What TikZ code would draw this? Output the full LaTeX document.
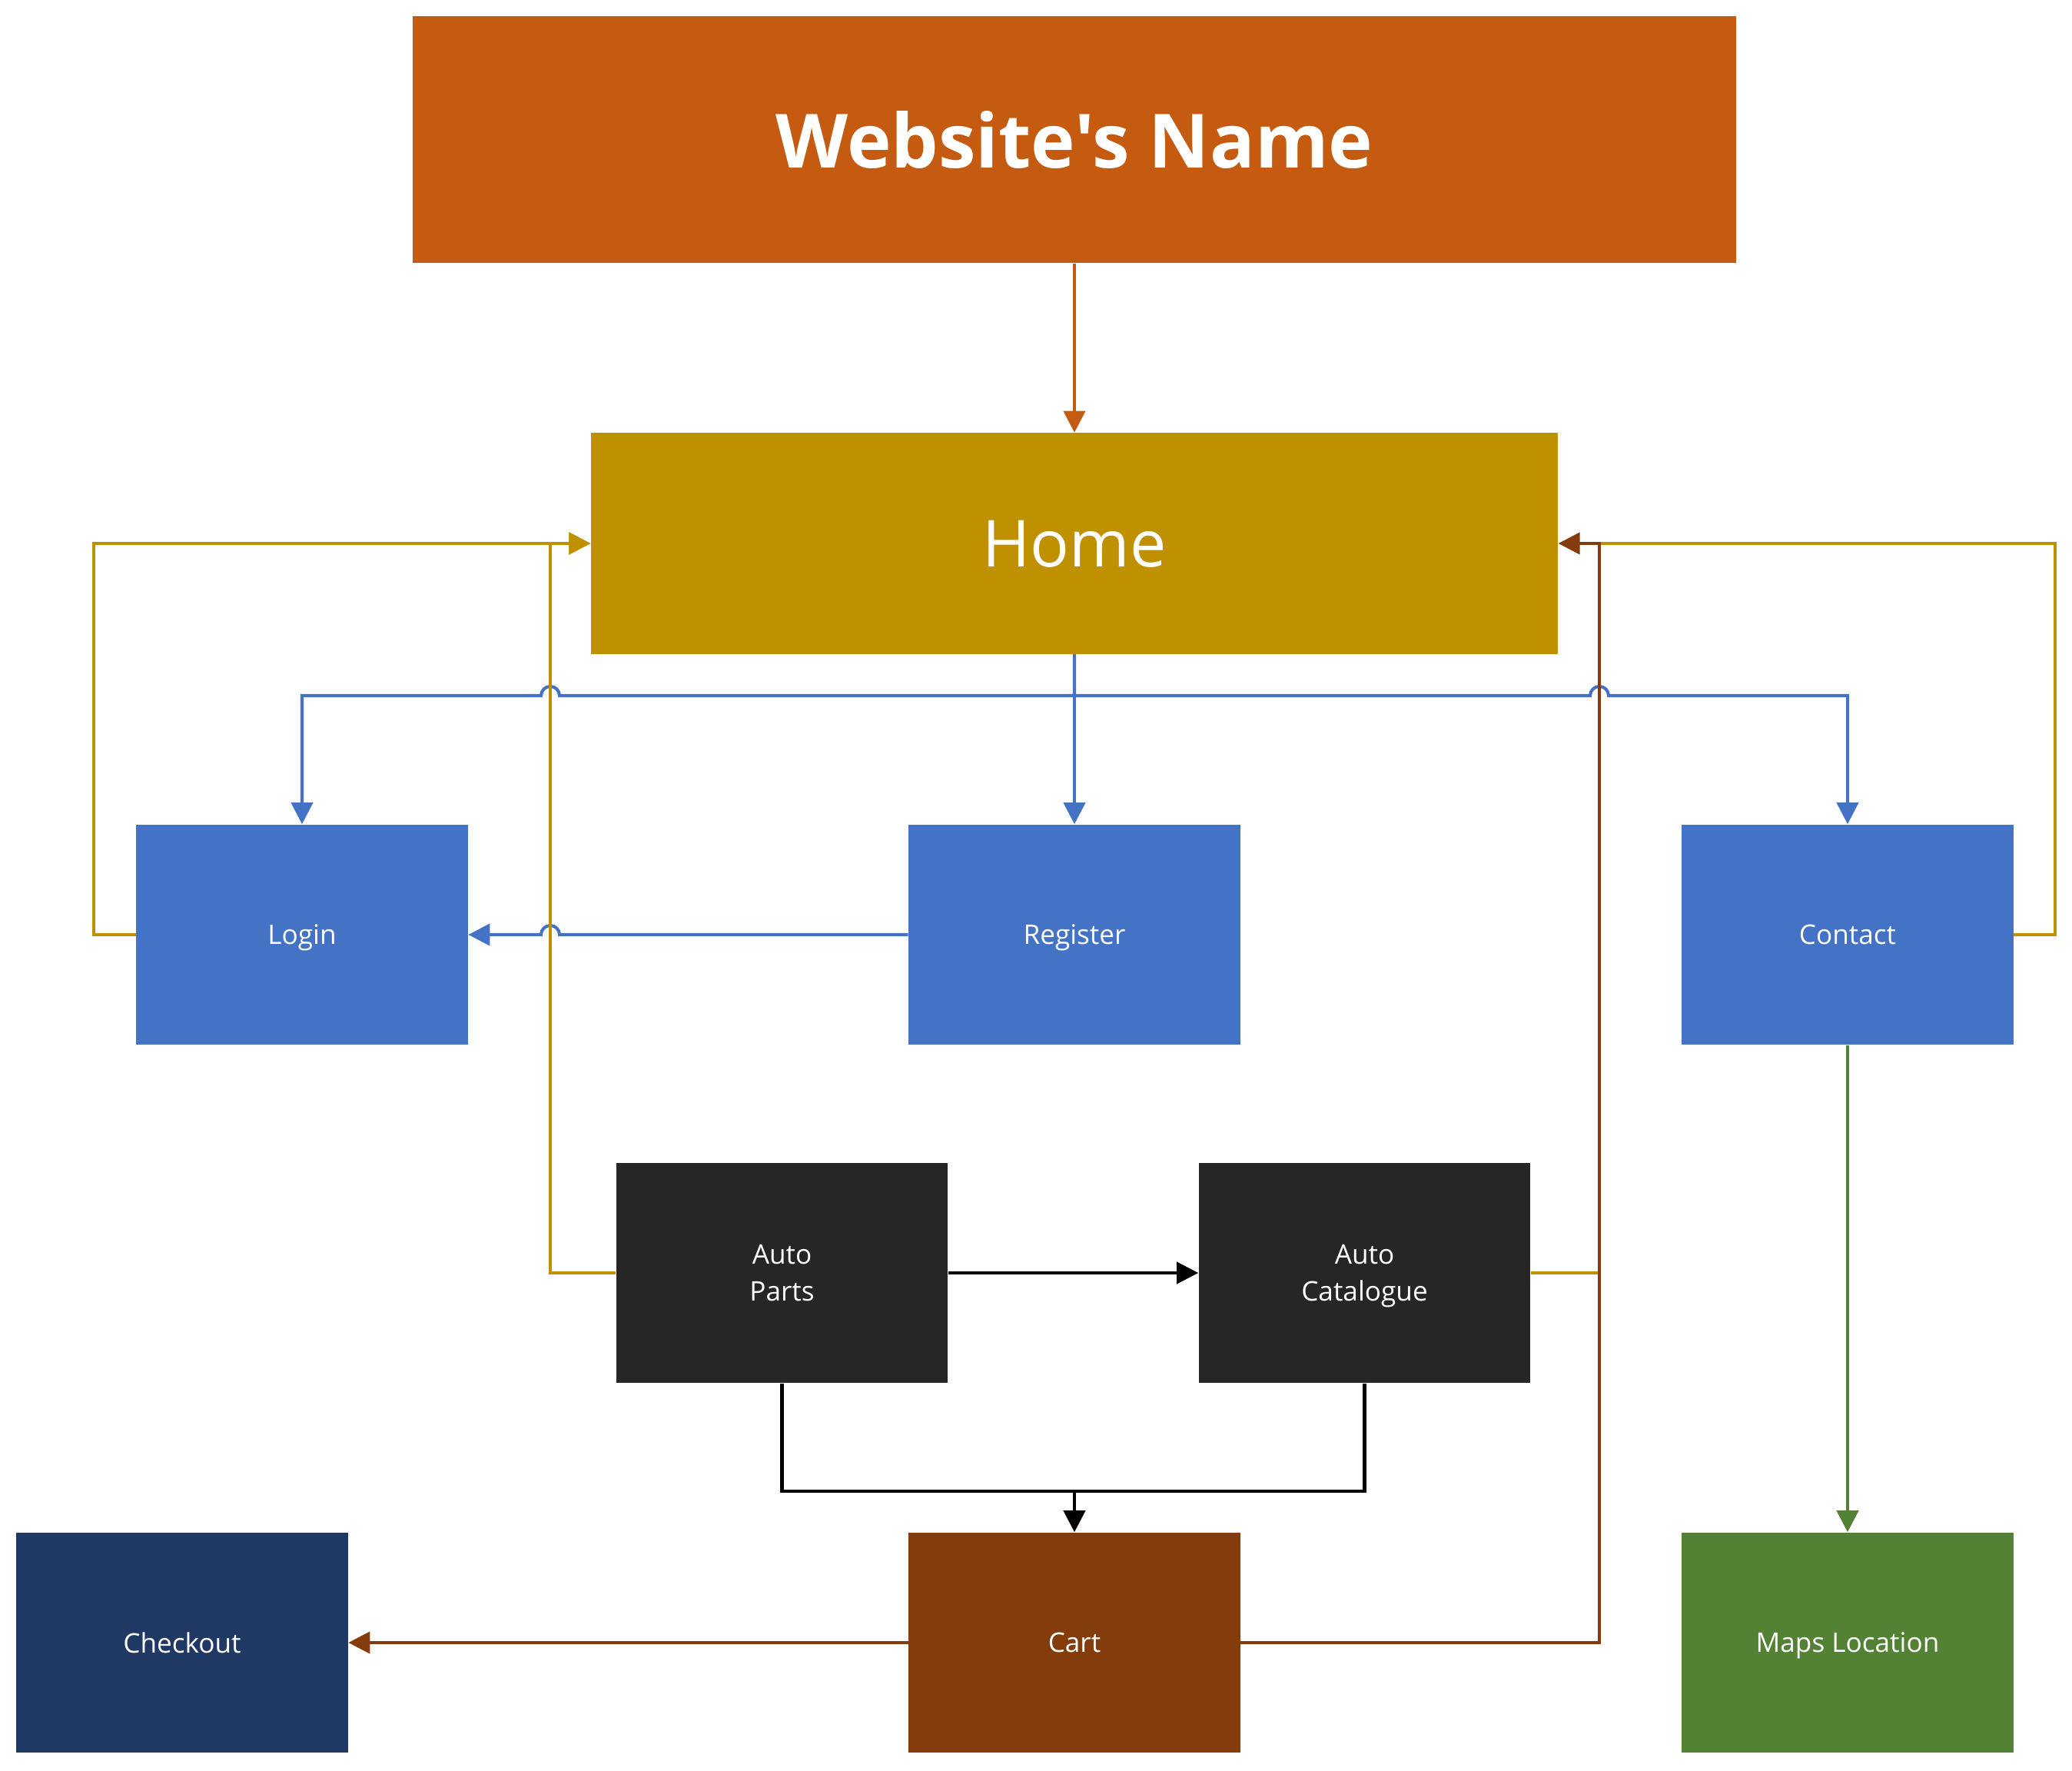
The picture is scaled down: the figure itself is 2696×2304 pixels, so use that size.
\documentclass[tikz,border=0pt]{standalone}
\usepackage{fontspec}
\setmainfont{Open Sans}
\newfontfamily\titlefont{Open Sans}
\usetikzlibrary{arrows.meta,calc}
\definecolor{cTitle}{HTML}{C55A11}
\definecolor{cHome}{HTML}{BF9000}
\definecolor{cBlue}{HTML}{4472C4}
\definecolor{cDark}{HTML}{262626}
\definecolor{cNavy}{HTML}{203864}
\definecolor{cBrown}{HTML}{843C0C}
\definecolor{cGreen}{HTML}{548235}
\begin{document}
\begin{tikzpicture}[x=0.01cm,y=0.01cm,
  box/.style={rectangle,inner sep=0pt,text=white,align=center,text depth=0pt,
    minimum width=4.31cm,minimum height=2.86cm,font=\fontsize{10}{13.7}\selectfont},
  conn/.style={line width=1.15pt,line join=miter},
  tip/.style={-{Triangle[length=0.28cm,width=0.28cm]}}]
\useasboundingbox (0,0) rectangle (2696,-2304);
% nodes
\node[box,fill=cTitle,minimum width=17.21cm,minimum height=3.21cm,
  font=\titlefont\fontsize{27.7}{32}\bfseries] (title) at (1398,-181.5) {Website's Name};
\node[box,fill=cHome,minimum width=12.57cm,minimum height=2.87cm,
  font=\fontsize{24}{28}\selectfont] (home) at (1398,-707) {Home};
\node[box,fill=cBlue] (login) at (393,-1216) {Login};
\node[box,fill=cBlue] (register) at (1398,-1216) {Register};
\node[box,fill=cBlue] (contact) at (2404,-1216) {Contact};
\node[box,fill=cDark] (parts) at (1017.5,-1656) {Auto\\Parts};
\node[box,fill=cDark] (catalogue) at (1775.5,-1656) {Auto\\Catalogue};
\node[box,fill=cNavy] (checkout) at (237,-2137) {Checkout};
\node[box,fill=cBrown] (cart) at (1398,-2137) {Cart};
\node[box,fill=cGreen] (maps) at (2404,-2137) {Maps Location};
% coordinates
\coordinate (gl) at (122,-707);
\coordinate (gr) at (2674,-707);
\coordinate (gx) at (716,-707);
\coordinate (bx) at (2081,-707);
\coordinate (merge) at (1398,-1940);
% title -> home
\draw[conn,tip,cTitle] (title.south) -- (home.north);
% blue
\draw[conn,tip,cBlue] (home.south) -- (register.north);
\draw[conn,tip,cBlue] (home.south) -- (1398,-905) -- (728,-905) arc (0:180:0.12cm) -- (393,-905) -- (login.north);
\draw[conn,tip,cBlue] (1398,-905) -- (2069,-905) arc (180:0:0.12cm) -- (2404,-905) -- (contact.north);
\draw[conn,tip,cBlue] (register.west) -- (728,-1216) arc (0:180:0.12cm) -- (login.east);
% gold
\draw[conn,tip,cHome] (login.west) -- (122,-1216) -- (gl) -- (home.west);
\draw[conn,tip,cHome] (parts.west) -- (716,-1656) -- (gx) -- (home.west);
\draw[conn,cHome] (contact.east) -- (2674,-1216) -- (gr) -- (bx);
\draw[conn,cHome] (catalogue.east) -- (2081,-1656);
% brown
\draw[conn,tip,cBrown] (cart.east) -- (2081,-2137) -- (bx) -- (home.east);
\draw[conn,tip,cBrown] (cart.west) -- (checkout.east);
% black
\draw[conn,tip,black] (parts.east) -- (catalogue.west);
\draw[conn,black] (parts.south) |- (merge);
\draw[conn,black] (catalogue.south) |- (merge);
\draw[conn,tip,black] (merge) -- (cart.north);
% green
\draw[conn,tip,cGreen] (contact.south) -- (maps.north);
\end{tikzpicture}
\end{document}
